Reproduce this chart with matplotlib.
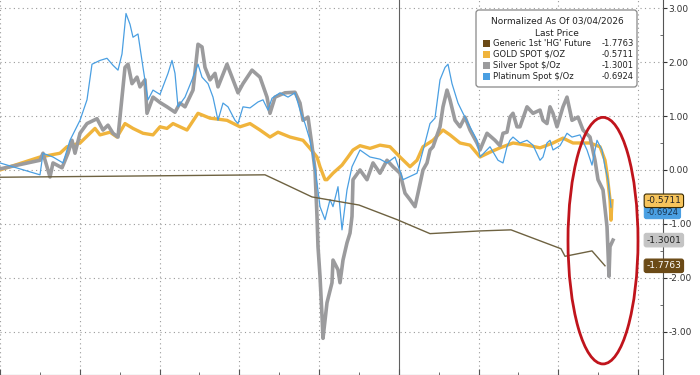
import numpy as np
import matplotlib.pyplot as plt
import matplotlib.ticker as mticker
from matplotlib.patches import Ellipse, FancyBboxPatch, Rectangle
from matplotlib.transforms import blended_transform_factory

plt.rcParams.update({
    "font.family": "DejaVu Sans",
    "font.size": 6.5,
})

# colours
GOLD   = "#f0b43c"
SILVER = "#9b9b9d"
PLAT   = "#4a9fe2"
COPPER = "#6e6241"
COPPER_TAG = "#6b4a16"

# ── data (time axis in chart units, values normalized) ───────────────────────
silver_x = [0, 40, 43, 50, 53, 62, 68, 72, 75, 80, 87, 97, 103, 108, 113, 118, 120, 125, 128,
            132, 137, 140, 145, 147, 153, 160, 167, 175, 180, 185, 193, 198, 202, 205, 210,
            215, 218, 227, 232, 238, 243, 252, 260, 267, 270, 275, 285, 295, 300, 303, 308,
            312, 315, 317, 318, 320, 322, 323, 327, 332, 333, 338, 340, 343, 347, 350, 352,
            353, 360, 367, 373, 380, 387, 393, 400, 405, 410, 415, 418, 423, 427, 430, 433,
            440, 443, 447, 450, 455, 460, 465, 470, 477, 480, 487, 495, 500, 503, 507, 510,
            513, 517, 520, 527, 533, 540, 543, 547, 550, 553, 557, 563, 567, 572, 578, 583,
            590, 595, 598, 603, 607, 609, 610, 613]
silver_y = [0.02, 0.18, 0.31, -0.13, 0.13, 0.04, 0.31, 0.55, 0.31, 0.68, 0.86, 0.95, 0.74, 0.83,
            0.68, 0.61, 0.98, 1.90, 1.96, 1.60, 1.72, 1.54, 1.67, 1.05, 1.35, 1.25, 1.17, 1.07,
            1.24, 1.17, 1.48, 2.33, 2.28, 1.90, 1.67, 1.79, 1.54, 1.96, 1.72, 1.43, 1.60, 1.85,
            1.72, 1.35, 1.05, 1.35, 1.43, 1.44, 1.24, 0.92, 0.98, 0.45, 0.00, -0.86, -1.42,
            -1.97, -2.70, -3.12, -2.46, -2.09, -1.67, -1.85, -2.09, -1.67, -1.35, -1.17, -0.86,
            -0.18, 0.00, -0.18, 0.13, -0.06, 0.18, 0.06, -0.06, -0.43, -0.55, -0.68, -0.43, 0.00,
            0.13, 0.37, 0.43, 0.80, 1.17, 1.48, 1.30, 0.92, 0.80, 0.98, 0.74, 0.50, 0.37, 0.68,
            0.55, 0.45, 0.68, 0.70, 0.98, 1.05, 0.80, 0.80, 1.17, 1.05, 1.11, 0.92, 0.86, 1.17,
            1.05, 0.80, 1.17, 1.35, 0.92, 0.98, 0.74, 0.61, 0.18, -0.18, -0.37, -1.05, -1.97,
            -1.42, -1.30]

plat_x = [0, 40, 43, 53, 63, 70, 80, 87, 92, 100, 107, 113, 118, 122, 126, 130, 133, 138, 143,
          148, 153, 160, 168, 172, 175, 178, 185, 192, 198, 202, 208, 213, 218, 223, 228, 235,
          238, 243, 250, 258, 263, 268, 272, 280, 288, 295, 300, 305, 310, 313, 317, 320, 325,
          330, 333, 338, 342, 347, 352, 360, 370, 380, 387, 395, 403, 410, 417, 425, 430, 435,
          440, 445, 448, 452, 458, 463, 470, 477, 480, 490, 498, 503, 507, 510, 513, 520, 527,
          533, 540, 543, 547, 550, 553, 560, 567, 572, 580, 587, 592, 597, 602, 605, 608, 611]
plat_y = [0.13, -0.09, 0.31, 0.24, 0.13, 0.55, 0.92, 1.30, 1.96, 2.03, 2.07, 1.94, 1.85, 2.15,
          2.90, 2.70, 2.46, 2.52, 1.90, 1.30, 1.48, 1.40, 1.79, 2.03, 1.79, 1.17, 1.35, 1.67,
          1.96, 1.72, 1.60, 1.35, 0.92, 1.24, 1.17, 0.92, 0.86, 1.17, 1.15, 1.26, 1.30, 1.11,
          1.33, 1.43, 1.35, 1.43, 1.11, 0.86, 0.55, 0.24, -0.24, -0.68, -0.92, -0.55, -0.68,
          -0.31, -1.11, -0.37, 0.06, 0.37, 0.24, 0.20, 0.13, 0.24, -0.18, -0.12, -0.06, 0.50,
          0.86, 0.96, 1.67, 1.90, 1.96, 1.60, 1.24, 1.05, 0.80, 0.55, 0.24, 0.43, 0.18, 0.13,
          0.43, 0.55, 0.61, 0.50, 0.55, 0.46, 0.18, 0.24, 0.50, 0.55, 0.37, 0.45, 0.68, 0.61,
          0.65, 0.37, 0.09, 0.55, 0.37, 0.06, -0.18, -0.69]

gold_x = [0, 40, 60, 67, 80, 90, 95, 100, 110, 117, 125, 133, 143, 153, 160, 167, 173, 187, 198,
          210, 227, 240, 250, 260, 270, 278, 290, 303, 310, 317, 320, 325, 327, 333, 342, 348,
          353, 360, 370, 380, 390, 400, 410, 417, 423, 433, 443, 450, 460, 470, 480, 490, 500,
          513, 527, 540, 553, 563, 573, 590, 600, 605, 607, 610, 611, 612]
gold_y = [0.00, 0.24, 0.31, 0.43, 0.50, 0.68, 0.77, 0.65, 0.70, 0.61, 0.86, 0.77, 0.68, 0.65,
          0.80, 0.77, 0.86, 0.74, 1.05, 0.96, 0.92, 0.80, 0.86, 0.74, 0.61, 0.70, 0.61, 0.55,
          0.40, 0.24, 0.06, -0.18, -0.18, -0.06, 0.09, 0.24, 0.37, 0.45, 0.40, 0.46, 0.43, 0.24,
          0.06, 0.18, 0.43, 0.55, 0.74, 0.65, 0.50, 0.46, 0.24, 0.33, 0.41, 0.50, 0.46, 0.41,
          0.50, 0.59, 0.50, 0.50, 0.43, 0.18, -0.06, -0.55, -0.93, -0.57]

copper_x = [0, 265, 280, 312, 359, 397, 430, 480, 511, 561, 565, 592, 605]
copper_y = [-0.135, -0.09, -0.22, -0.50, -0.65, -0.92, -1.18, -1.13, -1.11, -1.46, -1.60, -1.50, -1.776]

names  = ["Generic 1st 'HG' Future", "GOLD SPOT $/OZ", "Silver Spot $/Oz", "Platinum Spot $/Oz"]
last   = [-1.7763, -0.5711, -1.3001, -0.6924]
swatch = [COPPER_TAG, GOLD, SILVER, PLAT]

# ── figure ───────────────────────────────────────────────────────────────────
fig = plt.figure(figsize=(7, 3.75), dpi=100)
ax = fig.add_axes([0, 0, 663 / 700, 1])

ax.plot(gold_x, gold_y, color=GOLD, lw=2.4, zorder=2, solid_joinstyle="round")
ax.plot(silver_x, silver_y, color=SILVER, lw=2.6, zorder=3, solid_joinstyle="round")
ax.plot(plat_x, plat_y, color=PLAT, lw=0.9, zorder=4)
ax.plot(copper_x, copper_y, color=COPPER, lw=1.0, zorder=5)

ax.set_xlim(0, 663)
ax.set_ylim(-3.8, 3.15)

# grid
step = 79.75
for k in range(0, 9):
    if k == 5:
        ax.axvline(k * step, color="#606060", lw=0.8, zorder=1)
    else:
        ax.axvline(k * step, color="#9a9a9a", lw=0.8, ls=(0, (1, 3)), zorder=1)
for v in range(-3, 4):
    ax.axhline(v, color="#9a9a9a", lw=0.8, ls=(0, (1, 3)), zorder=1)

ax.spines["top"].set_visible(False)
ax.spines["left"].set_visible(False)
ax.spines["right"].set_color("#555555")
ax.spines["bottom"].set_color("#555555")

ax.yaxis.tick_right()
ax.set_yticks(range(-3, 4))
ax.yaxis.set_major_formatter(mticker.FormatStrFormatter("%.2f"))
ax.yaxis.set_minor_locator(mticker.MultipleLocator(0.5))
ax.tick_params(axis="y", which="major", direction="out", length=3, pad=1,
               labelsize=6.5, colors="#333333")
ax.tick_params(axis="y", which="minor", direction="in", length=2, colors="#555555")
ax.set_xticks([k * step for k in range(9)])
ax.xaxis.set_minor_locator(mticker.MultipleLocator(step / 2))
ax.tick_params(axis="x", which="major", direction="in", length=4, labelbottom=False,
               colors="#555555")
ax.tick_params(axis="x", which="minor", direction="in", length=2, colors="#555555")

# red highlight ellipse
ax.add_patch(Ellipse((603, -1.31), 70, 4.57, fill=False, edgecolor="#c0141c", lw=2, zorder=6))

# last-value tags on the right (platinum tag sits mostly hidden under gold)
tr = blended_transform_factory(ax.transAxes, ax.transData)
tags = [(-0.78, "-0.6924", PLAT, "#1a3550", PLAT, 6.0),
        (-0.5711, "-0.5711", "#f6c45c", "#222222", "#3a2a00", 6.5),
        (-1.3001, "-1.3001", "#c4c4c4", "#222222", "#c4c4c4", 6.5),
        (-1.7763, "-1.7763", COPPER_TAG, "white", COPPER_TAG, 6.5)]
for val, label, fc, tc, ec, fs in tags:
    ax.text(0.975, val, label, transform=tr, ha="left", va="center", fontsize=fs,
            color=tc, clip_on=False, zorder=8,
            bbox=dict(boxstyle="round,pad=0.25", fc=fc, ec=ec, lw=0.8))

# legend box
fig.patches.append(FancyBboxPatch((476, 288), 161, 77, boxstyle="round,pad=0,rounding_size=3",
                                  transform=None, fc="white", ec="#888888", lw=0.9, zorder=10))
fig.text(557 / 700, 1 - 21 / 375, "Normalized As Of 03/04/2026", ha="center", va="center",
         fontsize=6.5, color="#222222", zorder=11)
fig.text(557 / 700, 1 - 33 / 375, "Last Price", ha="center", va="center",
         fontsize=6.5, color="#222222", zorder=11)
for i, (nm, val, col) in enumerate(zip(names, last, swatch)):
    ypx = 43 + i * 11.3
    fig.patches.append(Rectangle((483, 375 - ypx - 3.5), 7, 7, transform=None, fc=col,
                                 ec="none", zorder=11))
    fig.text(493 / 700, 1 - ypx / 375, nm, ha="left", va="center", fontsize=6.0,
             color="#222222", zorder=11)
    fig.text(634 / 700, 1 - ypx / 375, f"{val:.4f}", ha="right", va="center",
             fontsize=6.0, color="#222222", zorder=11)

fig.savefig("out.png", dpi=100)
